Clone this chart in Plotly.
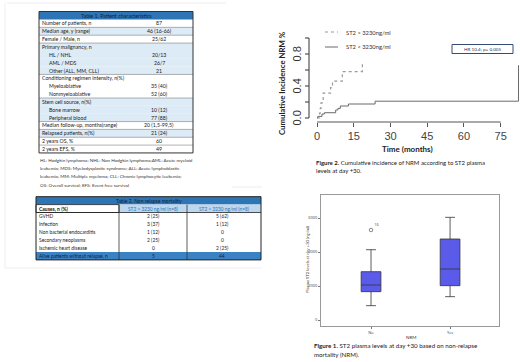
import plotly.graph_objects as go

W, H = 520, 362

# ---------------- Table 1 ----------------
t1_title = "Table 1. Patient characteristics"
t1_labels = ["Number of patients, n", "Median age, y (range)", "Female / Male, n",
             "Primary malignancy, n", "HL / NHL", "AML / MDS", "Other (ALL, MM, CLL)",
             "Conditioning regimen intensity, n(%)", "Myeloablative", "Nonmyeloablative",
             "Stem cell source, n(%)", "Bone marrow", "Peripheral blood",
             "Median follow-up, months(range)", "Relapsed patients, n(%)",
             "2 years OS, %", "2 years EFS, %"]
t1_values = ["87", "46 (16-66)", "25/62", "", "20/13", "26/7", "21", "", "35 (40)",
             "52 (60)", "", "10 (12)", "77 (88)", "20 (1,5-99,5)", "21 (24)", "60", "49"]
t1_indent = [0, 0, 0, 0, 1, 1, 1, 0, 1, 1, 0, 1, 1, 0, 0, 0, 0]
t1_shaded = [0, 1, 0, 1, 1, 1, 1, 0, 0, 0, 1, 1, 1, 0, 1, 0, 0]
t1_notes = ["HL: Hodgkin lymphoma; NHL: Non Hodgkin lymphoma;AML: Acute myeloid",
            "leukemia; MDS: Myelodysplastic syndrome; ALL: Acute lymphoblastic",
            "leukemia; MM: Multiple myeloma; CLL: Chronic lymphocytic leukemia;",
            "OS: Overall survival; EFS: Event free survival"]

# ---------------- Table 2 ----------------
t2_title = "Table 2. Non relapse mortality"
t2_cols = ["Causes, n (%)", "ST2 &gt; 3230 ng/ml (n=8)", "ST2 &lt; 3230 ng/ml (n=8)"]
t2_causes = ["GVHD", "Infection", "Non bacterial endocarditis", "Secondary neoplasms",
             "Ischemic heart disease"]
t2_high = ["2 (25)", "3 (37)", "1 (12)", "2 (25)", "0"]
t2_low = ["5 (62)", "1 (12)", "0", "0", "2 (25)"]
t2_total_label = "Alive patients without relapse, n"
t2_total = ["5", "44"]

# ---------------- Figure 2: cumulative incidence ----------------
km_high_name = "ST2 &gt; 3230ng/ml"
km_high_t = [0, 1.0, 1.3, 1.6, 2.5, 5.5, 6.3, 10.3, 18.5]
km_high_ci = [0, 0.06, 0.12, 0.19, 0.31, 0.38, 0.46, 0.58, 0.69]
km_low_name = "ST2 &lt; 3230ng/ml"
km_low_t = [0, 0.3, 2.0, 3.0, 7.6, 8.5, 9.5, 12.8, 23.7, 82.3]
km_low_ci = [0, 0.02, 0.05, 0.066, 0.10, 0.12, 0.15, 0.175, 0.21, 0.66]
km_xticks = [0, 15, 30, 45, 60, 75]
km_yticks = [0, 0.2, 0.4, 0.6, 0.8, 1.0]
km_ytick_text = ["0.0", "", "0.4", "", "0.8", ""]
km_hr_text = "HR 10.4; p= 0.005"

# ---------------- Figure 1: box plot ----------------
nrm_groups = ["No", "Yes"]
st2_lower = [843, 1373]
st2_q1 = [1667, 2020]
st2_median = [2059, 3000]
st2_q3 = [2843, 4765]
st2_upper = [4135, 6039]
st2_out_group = ["No"]
st2_out_val = [5294]
st2_out_label = ["16"]
box_yticks = [0, 2000, 4000, 6000]


def X(p):
    return p / W


def Y(p):
    return 1 - p / H


shapes = []
annots = []


def rect(x0, y0, x1, y1, fill, line=None, lw=0.6):
    shapes.append(dict(type="rect", xref="paper", yref="paper", x0=X(x0), x1=X(x1),
                       y0=Y(y1), y1=Y(y0), fillcolor=fill,
                       line=dict(color=line or "rgba(0,0,0,0)", width=lw if line else 0),
                       layer="below"))


def hline(x0, x1, y, color, lw=0.6, dash=None, layer="above"):
    d = dict(color=color, width=lw)
    if dash:
        d["dash"] = dash
    shapes.append(dict(type="line", xref="paper", yref="paper", x0=X(x0), x1=X(x1),
                       y0=Y(y), y1=Y(y), line=d, layer=layer))


def vline(x, y0, y1, color, lw=0.6):
    shapes.append(dict(type="line", xref="paper", yref="paper", x0=X(x), x1=X(x),
                       y0=Y(y0), y1=Y(y1), line=dict(color=color, width=lw)))


def text(x, y, s, size, color="#222", anchor="left", family="Lato", angle=0):
    annots.append(dict(xref="paper", yref="paper", x=X(x), y=Y(y), text=s, showarrow=False,
                       xanchor=anchor, yanchor="middle", textangle=angle,
                       font=dict(size=size, color=color, family=family), borderpad=0))


# faint page panels
hline(7, 226, 3, "#ececec", 1)
vline(5, 3, 268, "#efefef", 1)
hline(5, 262, 268, "#efefef", 1)
hline(232, 262, 187, "#ececec", 1)

# ---- Table 1 drawing ----
T1L, T1R, T1T, HH, RH = 39, 193, 11.5, 8.0, 7.85
BLUE = "#2E75B6"
LIGHT = "#DDEBF7"
rect(T1L, T1T, T1R, T1T + HH, BLUE)
text((T1L + T1R) / 2, T1T + HH / 2, t1_title, 5.3, "#0d2240", "center")
top = T1T + HH
for i, (lab, val) in enumerate(zip(t1_labels, t1_values)):
    y0 = top + i * RH
    if t1_shaded[i]:
        rect(T1L, y0, T1R, y0 + RH, LIGHT)
    text(T1L + 1.5 + 7 * t1_indent[i], y0 + RH / 2, lab, 5.2, "#1a1a1a")
    if val:
        text(159, y0 + RH / 2, val, 5.2, "#1a1a1a", "center")
for i in [1, 2, 3, 7, 10, 13, 14, 15, 16]:
    hline(T1L, T1R, top + i * RH, "#666", 0.5)
bottom1 = top + len(t1_labels) * RH
shapes.append(dict(type="rect", xref="paper", yref="paper", x0=X(T1L), x1=X(T1R),
                   y0=Y(bottom1), y1=Y(T1T), line=dict(color="#333", width=1)))
for k, ln in enumerate(t1_notes):
    text(T1L, 160 + k * 8.2, ln, 4.6, "#333")

# ---- Table 2 drawing ----
T2L, C1, C2, T2R, T2T, RH2 = 36, 119, 187, 261, 196.7, 7.9
rect(T2L, T2T, T2R, T2T + RH2, BLUE)
text((T2L + T2R) / 2, T2T + RH2 / 2, t2_title, 5.0, "#0d2240", "center")
y = T2T + RH2
rect(C1, y, T2R, y + RH2, "#BDD7EE")
text(T2L + 1.5, y + RH2 / 2, "<b>" + t2_cols[0] + "</b>", 5.0, "#111")
text((C1 + C2) / 2, y + RH2 / 2, t2_cols[1], 4.8, "#2E75B6", "center")
text((C2 + T2R) / 2, y + RH2 / 2, t2_cols[2], 4.8, "#2E75B6", "center")
shapes.append(dict(type="rect", xref="paper", yref="paper", x0=X(T2L), x1=X(C1),
                   y0=Y(y + RH2), y1=Y(y), line=dict(color="#222", width=0.8)))
hline(T2L, T2R, y + RH2, "#222", 0.8)
for i, (c, a, b) in enumerate(zip(t2_causes, t2_high, t2_low)):
    yy = y + RH2 * (i + 1)
    text(T2L + 1.5, yy + RH2 / 2, c, 4.9, "#1a1a1a")
    text((C1 + C2) / 2, yy + RH2 / 2, a, 4.9, "#1a1a1a", "center")
    text((C2 + T2R) / 2 - 2, yy + RH2 / 2, b, 4.9, "#1a1a1a", "center")
yl = y + RH2 * (len(t2_causes) + 1)
rect(T2L, yl, T2R, yl + RH2, "#3B82C4")
text(T2L + 1.5, yl + RH2 / 2, t2_total_label, 4.9, "#0d2240")
text((C1 + C2) / 2, yl + RH2 / 2, t2_total[0], 4.9, "#0d2240", "center")
text((C2 + T2R) / 2 - 2, yl + RH2 / 2, t2_total[1], 4.9, "#0d2240", "center")
vline(C1, y, yl + RH2, "#333", 0.8)
vline(C2, y, yl + RH2, "#333", 0.8)
shapes.append(dict(type="rect", xref="paper", yref="paper", x0=X(T2L), x1=X(T2R),
                   y0=Y(yl + RH2), y1=Y(T2T), line=dict(color="#222", width=1)))

# ---- Figure 2: cumulative incidence ----
KM_LEFT, KM_BOTTOM, KM_TOP = 309, 122, 34.8
KM_YRANGE = [-0.05, 1.04]


def km_py(v):
    # pixel row of a y value on the KM y axis (same mapping as the axis domain/range)
    return KM_BOTTOM - (v - KM_YRANGE[0]) / (KM_YRANGE[1] - KM_YRANGE[0]) * (KM_BOTTOM - KM_TOP)


fig = go.Figure()
fig.add_trace(go.Scatter(x=km_high_t, y=km_high_ci, mode="lines", line_shape="hv",
                         name="high",
                         line=dict(color="#9a9a9a", width=1.2, dash="dot"),
                         xaxis="x", yaxis="y"))
fig.add_trace(go.Scatter(x=km_low_t, y=km_low_ci, mode="lines", line_shape="hv",
                         name="low", line=dict(color="#6a6a6a", width=1),
                         xaxis="x", yaxis="y"))

# R-style y axis: line from first to last tick, ticks and rotated labels
vline(KM_LEFT, km_py(km_yticks[0]), km_py(km_yticks[-1]), "#444", 1.1)
for v, lab in zip(km_yticks, km_ytick_text):
    hline(KM_LEFT - 4, KM_LEFT, km_py(v), "#444", 1.1)
    if lab:
        text(KM_LEFT - 12.5, km_py(v), lab, 11, "#333", "center", "Liberation Sans", -90)
shapes.append(dict(type="line", xref="x", yref="paper", x0=km_xticks[0], x1=km_xticks[-1],
                   y0=Y(KM_BOTTOM), y1=Y(KM_BOTTOM), line=dict(color="#555", width=1)))

# legend
hline(325, 338, 32, "#9a9a9a", 1.2, "dot")
text(345, 32, km_high_name, 5.8, "#333")
hline(325, 338, 47, "#6a6a6a", 1)
text(345, 47, km_low_name, 5.8, "#333")

# HR box
shapes.append(dict(type="rect", xref="paper", yref="paper", x0=X(452), x1=X(513),
                   y0=Y(53.5), y1=Y(44.5), line=dict(color="#1F3864", width=0.9),
                   fillcolor="white"))
text(482.5, 49, km_hr_text, 4.6, "#1F3864", "center")

text(282, 83, "<b>Cumulative Incidence NRM %</b>", 7.8, "#222", "center", angle=-90)
text(407, 149, "<b>Time (months)</b>", 8, "#222", "center")
text(315, 162, "<b>Figure 2.</b> Cumulative incidence of NRM according to ST2 plasma", 6.0, "#222")
text(315, 170.5, "levels at day +30.", 6.0, "#222")

# ---- Figure 1: box plot ----
fig.add_trace(go.Box(x=nrm_groups, q1=st2_q1, median=st2_median, q3=st2_q3,
                     lowerfence=st2_lower, upperfence=st2_upper, width=0.25,
                     whiskerwidth=0.5, fillcolor="#5B5BEA",
                     line=dict(color="#333", width=0.8), boxpoints=False,
                     xaxis="x2", yaxis="y2", name="ST2"))
fig.add_trace(go.Scatter(x=st2_out_group, y=st2_out_val, mode="markers+text",
                         text=st2_out_label, textposition="top right",
                         textfont=dict(size=4, color="#444"),
                         marker=dict(symbol="circle-open", size=3.5, color="#555",
                                     line=dict(width=0.7)),
                         xaxis="x2", yaxis="y2"))
text(307, 260, "Plasma ST2 levels at day +30 (ng/ml)", 4.2, "#333", "center", angle=-90)
text(411, 337, "NRM", 4.5, "#333", "center")
text(313, 345.5, "<b>Figure 1.</b> ST2 plasma levels at day +30 based on non-relapse", 6.2, "#222")
text(313, 354.2, "mortality (NRM).", 6.2, "#222")

fig.update_layout(
    width=W, height=H, autosize=False, margin=dict(l=0, r=0, t=0, b=0, pad=0),
    paper_bgcolor="white", plot_bgcolor="white", showlegend=False,
    shapes=shapes, annotations=annots,
    xaxis=dict(domain=[X(KM_LEFT), 1.0], range=[-3.3, 82.9], showgrid=False, zeroline=False,
               showline=False, ticks="outside", ticklen=4, tickcolor="#555",
               tickvals=km_xticks, automargin=False,
               tickfont=dict(family="Liberation Sans", size=11, color="#444"),
               anchor="y"),
    yaxis=dict(domain=[Y(KM_BOTTOM), Y(KM_TOP)], range=KM_YRANGE, showgrid=False,
               zeroline=False, showline=False, ticks="", showticklabels=False,
               automargin=False, anchor="x"),
    xaxis2=dict(domain=[X(321), X(499)], type="category", range=[-0.633, 1.619],
                showgrid=False, zeroline=False, showline=True, mirror=True, automargin=False,
                linecolor="#999", linewidth=0.8, ticks="outside", ticklen=2,
                tickcolor="#777", tickfont=dict(size=4, color="#444"), anchor="y2"),
    yaxis2=dict(domain=[Y(326), Y(195)], range=[-353, 7353], showgrid=False, zeroline=False,
                showline=True, mirror=True, linecolor="#999", linewidth=0.8, automargin=False,
                ticks="outside", ticklen=2, tickcolor="#777", tickvals=box_yticks,
                tickfont=dict(size=4, color="#444"), anchor="x2"),
)

fig.write_html("out.html", config={"displayModeBar": False},
               post_script="document.body.style.margin='0px';")
